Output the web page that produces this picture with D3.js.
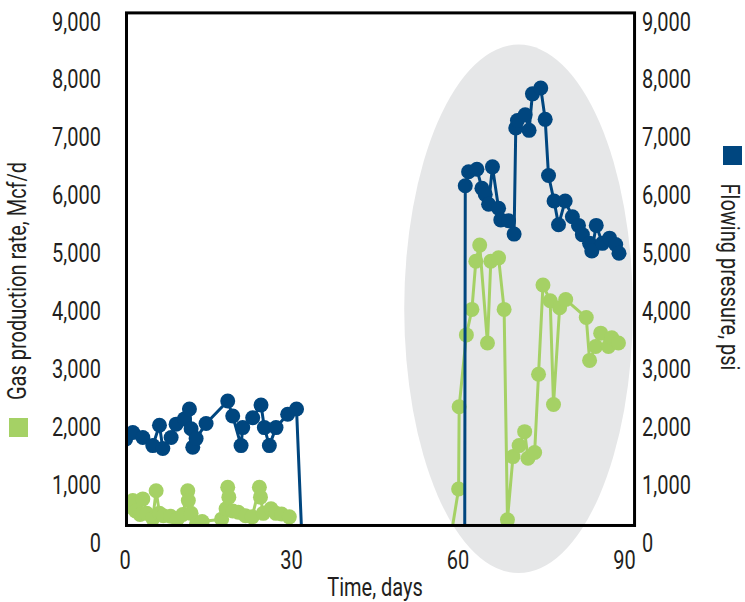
<!DOCTYPE html>
<html>
<head>
<meta charset="UTF-8">
<script src="https://d3js.org/d3.v7.min.js"></script>
<style>
  body { margin: 0; background: #fff; }
  svg text { font-family: "Roboto", "Liberation Sans", sans-serif; fill: #231f20; }
</style>
</head>
<body>
<div id="chart"></div>
<script>
// flowing pressure, psi (blue)
var pressureDays = [0.2, 1.5, 3.3, 5.1, 6.3, 6.9, 8.4, 9.3, 10.8, 11.7, 12.0, 12.3, 12.9, 14.7,
    18.6, 19.5, 21.0, 21.3, 23.1, 24.6, 25.2, 26.1, 27.3, 29.4, 31.0, 32.0,
    61.3, 61.4, 62.0, 63.5, 64.4, 65.0, 65.6, 66.3, 67.4, 67.8, 69.2, 70.2, 70.5, 70.8, 72.2, 72.9,
    73.5, 75.0, 75.8, 76.4, 77.4, 78.2, 79.4, 80.7, 81.8, 82.5, 83.8, 84.2, 85.0, 86.1, 87.4, 88.5, 89.1];
var pressureValues = [1800, 1915, 1830, 1690, 2040, 1640, 1830, 2060, 2150, 2320, 1980, 1660, 1810, 2070,
    2460, 2200, 1690, 2000, 2170, 2390, 2000, 1690, 2000, 2230, 2320, 0,
    0, 6175, 6415, 6460, 6130, 6025, 5855, 6500, 5785, 5585, 5570, 5340, 7170, 7300, 7400, 7130,
    7760, 7860, 7320, 6350, 5910, 5500, 5910, 5640, 5490, 5330, 5180, 5050, 5490, 5180, 5270, 5160, 5010];

// gas production rate, Mcf/d (green)
var gasDays = [1.0, 1.5, 2.0, 2.8, 3.3, 4.0, 5.1, 5.7, 6.3, 7.0, 8.3, 9.5, 10.5, 11.4, 11.5, 12.0, 13.0, 14.0,
    17.5, 18.3, 18.6, 18.8, 19.5, 20.5, 21.8, 23.0, 24.3, 24.5, 25.0, 26.4, 27.3, 28.3, 29.7, 30.5,
    58.6, 60.2, 60.3, 61.6, 62.6, 63.3, 64.0, 65.4, 66.0, 67.4, 68.4, 69.0, 70.0, 71.1, 72.1, 72.7, 73.9,
    74.6, 75.4, 76.7, 77.3, 78.4, 79.5, 83.2, 83.8, 84.9, 85.8, 87.2, 87.8, 89.0];
var gasValues = [640, 740, 560, 500, 770, 520, 430, 910, 520, 480, 470, 420, 500, 910, 740, 520, 350, 380,
    420, 600, 970, 800, 560, 540, 480, 460, 970, 800, 520, 600, 520, 510, 460, 0,
    0, 940, 2360, 3600, 4040, 4870, 5150, 3460, 4870, 4930, 4040, 410, 1500, 1690, 1930, 1470, 1570,
    2920, 4460, 4190, 2400, 4070, 4210, 3900, 3160, 3400, 3630, 3400, 3550, 3460];

var yTicks = [0, 1000, 2000, 3000, 4000, 5000, 6000, 7000, 8000, 9000];
var xTicks = [0, 30, 60, 90];

// highlighted period (ellipse), in days / units
var highlightCenter = [71.0, 4050];
var highlightRadius = [20.6, 4560];

var blue = "#00467f";
var green = "#a5d165";
var width = 745, height = 602;
var fontSize = 25;
var narrow = "scale(0.8,1)";   // condensed look

var x = d3.scaleLinear().domain([0, 90]).range([124.5, 624]);
var y = d3.scaleLinear().domain([0, 9000]).range([543.5, 22]);

var frame = { x0: x(0.36), x1: x(91.9), y0: y(9157), y1: y(311) };

var svg = d3.select("#chart").append("svg")
    .attr("width", width)
    .attr("height", height);

svg.append("clipPath").attr("id", "plotclip")
    .append("rect")
    .attr("x", frame.x0).attr("y", frame.y0)
    .attr("width", frame.x1 - frame.x0).attr("height", frame.y1 - frame.y0);

// gray highlight ellipse
svg.append("ellipse")
    .attr("cx", x(highlightCenter[0]))
    .attr("cy", y(highlightCenter[1]))
    .attr("rx", x(highlightCenter[0] + highlightRadius[0]) - x(highlightCenter[0]))
    .attr("ry", y(0) - y(highlightRadius[1]))
    .attr("fill", "#e6e7e8");

var plot = svg.append("g").attr("clip-path", "url(#plotclip)");

var line = d3.line()
    .x(d => x(d[0]))
    .y(d => y(d[1]));

var series = [
    { color: green, pts: gasDays.map((d, i) => [d, gasValues[i]]) },
    { color: blue, pts: pressureDays.map((d, i) => [d, pressureValues[i]]) }
];

series.forEach(function(s) {
    var g = plot.append("g");
    g.append("path")
        .datum(s.pts)
        .attr("d", line)
        .attr("fill", "none")
        .attr("stroke", s.color)
        .attr("stroke-width", 3)
        .attr("stroke-linejoin", "round");
    g.selectAll("circle")
        .data(s.pts)
        .enter()
        .append("circle")
        .attr("cx", d => x(d[0]))
        .attr("cy", d => y(d[1]))
        .attr("r", 7.5)
        .attr("fill", s.color);
});

// frame
svg.append("rect")
    .attr("x", frame.x0).attr("y", frame.y0)
    .attr("width", frame.x1 - frame.x0).attr("height", frame.y1 - frame.y0)
    .attr("fill", "none")
    .attr("stroke", "#000")
    .attr("stroke-width", 3);

// axes
var fmt = d3.format(",");
var leftAxis = d3.axisLeft(y).tickValues(yTicks).tickSize(0).tickPadding(0).tickFormat(fmt);
var rightAxis = d3.axisRight(y).tickValues(yTicks).tickSize(0).tickPadding(0).tickFormat(fmt);
var bottomAxis = d3.axisBottom(x).tickValues(xTicks).tickSize(0).tickPadding(0);

function styleAxis(g) {
    g.select(".domain").remove();
    g.attr("font-size", fontSize).attr("font-family", null);
    g.selectAll("text").attr("fill", "#231f20").attr("transform", narrow);
}

svg.append("g").attr("transform", "translate(101,0)").call(leftAxis).call(styleAxis);
svg.append("g").attr("transform", "translate(642,0)").call(rightAxis).call(styleAxis);
svg.append("g").attr("transform", "translate(0,551)").call(bottomAxis).call(styleAxis);

// axis titles and legend keys
svg.append("text")
    .attr("transform", "translate(26,281) rotate(-90) " + narrow)
    .attr("text-anchor", "middle")
    .attr("font-size", fontSize)
    .text("Gas production rate, Mcf/d");
svg.append("rect")
    .attr("x", 9).attr("y", 418).attr("width", 19).attr("height", 19)
    .attr("fill", green);

svg.append("text")
    .attr("transform", "translate(721,277) rotate(90) " + narrow)
    .attr("text-anchor", "middle")
    .attr("font-size", fontSize)
    .text("Flowing pressure, psi");
svg.append("rect")
    .attr("x", 723).attr("y", 146).attr("width", 19).attr("height", 19)
    .attr("fill", blue);

svg.append("text")
    .attr("transform", "translate(375,596) " + narrow)
    .attr("text-anchor", "middle")
    .attr("font-size", fontSize)
    .text("Time, days");
</script>
</body>
</html>
